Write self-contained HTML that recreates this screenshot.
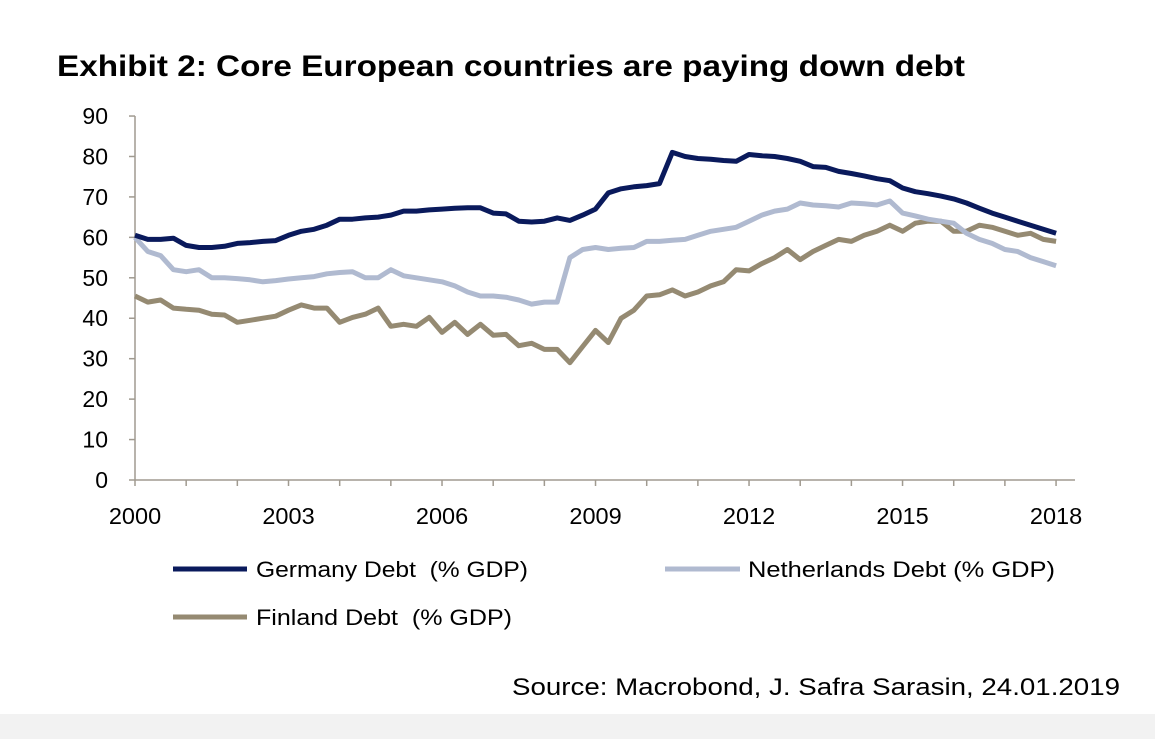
<!DOCTYPE html>
<html><head><meta charset="utf-8"><style>
body{margin:0;background:#fff;}
svg{display:block;font-family:"Liberation Sans",sans-serif;}
text{white-space:pre;}
</style></head><body>
<svg id="chart" width="1155" height="739">
<rect x="0" y="714" width="1155" height="25" fill="#f2f2f2"/>
<text x="57" y="76" font-size="30" font-weight="bold" textLength="908" lengthAdjust="spacingAndGlyphs" fill="#000">Exhibit 2: Core European countries are paying down debt</text>
<g id="axes"></g>
<g id="series"></g>
<g>
<line x1="173" y1="569" x2="247" y2="569" stroke="#0a1a5c" stroke-width="5"/>
<text x="256" y="577" font-size="22.5" textLength="272" lengthAdjust="spacingAndGlyphs">Germany Debt  (% GDP)</text>
<line x1="665" y1="569" x2="740" y2="569" stroke="#b0bad0" stroke-width="5"/>
<text x="748" y="577" font-size="22.5" textLength="307" lengthAdjust="spacingAndGlyphs">Netherlands Debt (% GDP)</text>
<line x1="173" y1="617" x2="247" y2="617" stroke="#958a72" stroke-width="5"/>
<text x="256" y="625" font-size="22.5" textLength="256" lengthAdjust="spacingAndGlyphs">Finland Debt  (% GDP)</text>
</g>
<text x="1120" y="695" font-size="24" text-anchor="end" textLength="608" lengthAdjust="spacingAndGlyphs">Source: Macrobond, J. Safra Sarasin, 24.01.2019</text>
</svg>
<script>
const yTicks=[0,10,20,30,40,50,60,70,80,90];
const xTicks=[2000,2003,2006,2009,2012,2015,2018];
const startYear=2000;
const germany=[60.5,59.5,59.5,59.8,58,57.5,57.5,57.8,58.5,58.7,59,59.2,60.5,61.5,62,63,64.5,64.5,64.8,65,65.5,66.5,66.5,66.8,67,67.2,67.3,67.3,66,65.8,64,63.8,64,64.8,64.2,65.5,67,71,72,72.5,72.8,73.3,81,80,79.5,79.3,79,78.8,80.5,80.2,80,79.5,78.8,77.5,77.3,76.3,75.8,75.2,74.5,74,72.2,71.3,70.8,70.2,69.5,68.5,67.2,66,65,64,63,62,61];
const netherlands=[60,56.5,55.5,52,51.5,52,50,50,49.8,49.5,49,49.3,49.7,50,50.3,51,51.3,51.5,50,50,52,50.5,50,49.5,49,48,46.5,45.5,45.5,45.2,44.5,43.5,44,44,55,57,57.5,57,57.3,57.5,59,59,59.3,59.5,60.5,61.5,62,62.5,64,65.5,66.5,67,68.5,68,67.8,67.5,68.5,68.3,68,69,66,65.3,64.5,64,63.5,61,59.5,58.5,57,56.5,55,54,53];
const finland=[45.5,44,44.5,42.5,42.2,42,41,40.8,39,39.5,40,40.5,42,43.3,42.5,42.5,39,40.2,41,42.5,38,38.5,38,40.2,36.5,39,36,38.5,35.8,36,33.2,33.8,32.3,32.3,29,33,37,34,40,42,45.5,45.8,47,45.5,46.5,48,49,52,51.7,53.5,55,57,54.5,56.5,58,59.5,59,60.5,61.5,63,61.5,63.5,64,64,61.5,61.5,63,62.5,61.5,60.5,61,59.5,59];
const NS="http://www.w3.org/2000/svg";
const X0=135,PX=51.17,Y0=480,PY=4.044;
function xs(yr){return X0+(yr-2000)*PX;}
function ys(v){return Y0-v*PY;}
const axes=document.getElementById('axes');
function mk(tag,attrs,parent){const e=document.createElementNS(NS,tag);for(const k in attrs)e.setAttribute(k,attrs[k]);parent.appendChild(e);return e;}
let a=mk('line',{x1:X0,y1:ys(90),x2:X0,y2:Y0,stroke:'#a09a90','stroke-width':1.5},axes);


a=mk('line',{x1:X0,y1:Y0,x2:1075,y2:Y0,stroke:'#a09a90','stroke-width':1.5},axes);


yTicks.forEach(v=>{
  const t=mk('line',{x1:X0-6,y1:ys(v),x2:X0,y2:ys(v),stroke:'#a09a90','stroke-width':1.5},axes);
  
  
  const l=mk('text',{x:108,y:ys(v)+8,'font-size':23,'text-anchor':'end'},axes);
  l.textContent=v;
  
  
});
for(let yr=2000;yr<=2018;yr++){
  const t=mk('line',{x1:xs(yr),y1:Y0,x2:xs(yr),y2:Y0+6,stroke:'#a09a90','stroke-width':1.5},axes);
  
  
}
xTicks.forEach(yr=>{
  const l=mk('text',{x:xs(yr),y:524,'font-size':23.5,'text-anchor':'middle'},axes);
  l.textContent=yr;
  
  
});
const ser=document.getElementById('series');
function draw(vals,color,name){
  const pts=vals.map((v,i)=>xs(startYear+i*0.25).toFixed(1)+','+ys(v).toFixed(1)).join(' ');
  const p=mk('polyline',{points:pts,fill:'none',stroke:color,'stroke-width':5,'stroke-linejoin':'round'},ser);
  
  
}
draw(finland,'#958a72','finland-line');
draw(netherlands,'#b0bad0','netherlands-line');
draw(germany,'#0a1a5c','germany-line');
</script>
</body></html>
